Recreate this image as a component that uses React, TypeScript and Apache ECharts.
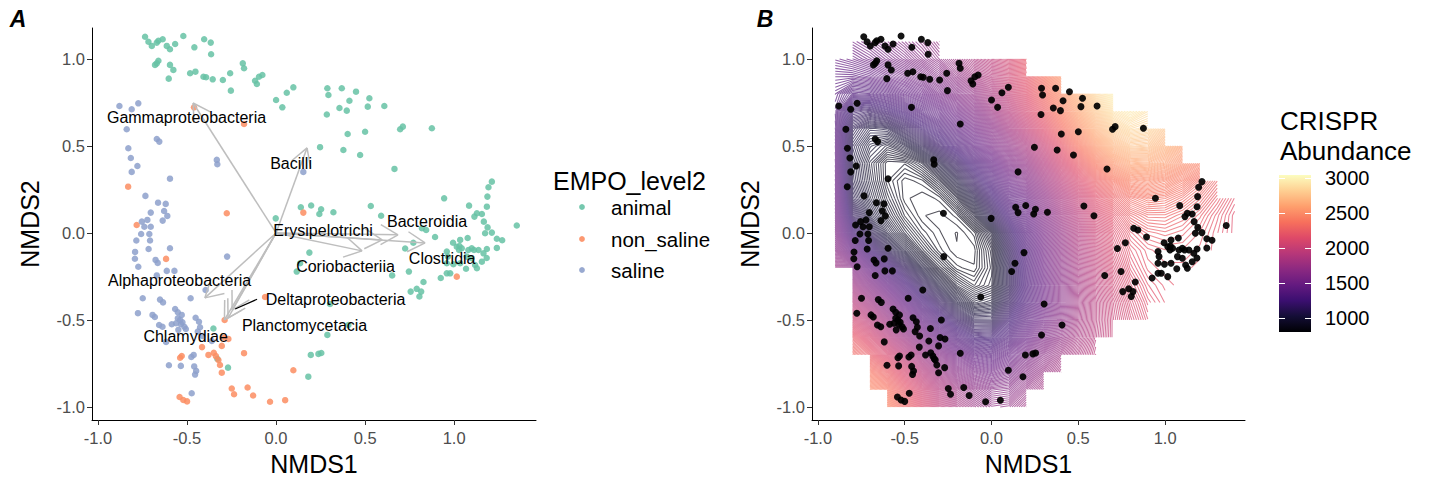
import React, { useEffect, useRef } from "react";
import * as echarts from "echarts";

const FONT = "'Liberation Sans', Arial, Helvetica, sans-serif";

// ---------- axes ----------
const X_MIN = -1.034;
const X_MAX = 1.46;
const Y_MIN = -1.075;
const Y_MAX = 1.178;
const TICK_VALUES = [-1, -0.5, 0, 0.5, 1];

// ---------- groups ----------
const groupNames = ["animal", "non_saline", "saline"];
const groupColors = ["#66c2a5", "#fc8d62", "#8da0cb"];

// ---------- NMDS site scores ----------
const animal: number[][] = [
  [-0.736, 1.128], [-0.717, 1.099], [-0.698, 1.075], [-0.67, 1.094], [-0.661, 1.105], [-0.637, 1.113], [-0.614, 1.075],
  [-0.596, 1.056], [-0.567, 1.086], [-0.521, 1.132], [-0.459, 1.067], [-0.404, 1.113], [-0.367, 1.094], [-0.365, 1.027],
  [-0.68, 0.966], [-0.661, 0.99], [-0.67, 0.975], [-0.596, 0.966], [-0.577, 0.937], [-0.603, 0.887], [-0.483, 0.918],
  [-0.453, 0.927], [-0.408, 0.898], [-0.393, 0.895], [-0.356, 0.883], [-0.299, 0.879], [-0.258, 0.918], [-0.254, 0.818],
  [-0.187, 0.975], [-0.18, 0.947], [-0.118, 0.875], [-0.108, 0.856], [-0.096, 0.898], [-0.077, 0.908],
  [0.0, 0.764], [0.035, 0.722], [0.06, 0.806], [0.097, 0.837], [0.288, 0.832], [0.294, 0.793], [0.369, 0.832],
  [0.356, 0.718], [0.397, 0.703], [0.412, 0.76], [0.285, 0.681], [0.247, 0.493], [0.378, 0.477], [0.402, 0.569],
  [0.449, 0.812], [0.524, 0.774], [0.515, 0.726], [0.608, 0.73], [0.5, 0.582], [0.697, 0.596], [0.712, 0.611],
  [0.875, 0.602], [0.472, 0.448], [0.665, 0.368],
  [0.944, 0.199], [1.212, 0.295], [1.193, 0.263], [1.187, 0.209], [1.184, 0.151], [1.084, 0.157], [1.128, 0.113],
  [1.156, 0.109], [1.114, 0.094], [1.167, 0.065], [1.188, 0.032], [1.174, -0.002], [1.212, 0.002], [1.352, 0.043],
  [1.24, -0.033], [1.27, -0.042],
  [0.139, 0.148], [0.197, 0.158], [0.243, 0.109], [0.253, 0.136], [0.322, 0.119], [-0.002, 0.084], [0.532, 0.155],
  [0.59, 0.099], [0.819, 0.027], [0.843, 0.017], [0.893, -0.023], [0.994, -0.056], [1.034, -0.04], [1.076, -0.029],
  [1.015, -0.079], [1.043, -0.088], [1.099, -0.088], [1.137, -0.098], [1.184, -0.092], [1.24, -0.086],
  [0.725, -0.089], [0.771, -0.056], [0.959, -0.107], [0.965, -0.136], [1.071, -0.136], [1.165, -0.117], [1.183, -0.144],
  [1.156, -0.165], [1.118, -0.184], [1.067, -0.206], [1.128, -0.203], [0.959, -0.232], [0.978, -0.232], [0.925, -0.259],
  [0.828, -0.282], [0.79, -0.321], [0.746, -0.222], [0.652, -0.244], [0.116, -0.222], [0.187, -0.113], [0.135, -0.174],
  [1.03, -0.075], [1.028, -0.098], [1.08, -0.098], [1.112, -0.098], [1.099, -0.145], [0.959, -0.174], [0.996, -0.18],
  [1.034, -0.174],
  [0.756, -0.337], [0.805, -0.365], [0.815, -0.337], [0.303, -0.408], [0.288, -0.586], [0.406, -0.529], [0.195, -0.701],
  [0.238, -0.695], [0.254, -0.69], [0.181, -0.826], [-0.352, -0.549], [-0.33, -0.723], [-0.27, -0.774],
];

const nonSaline: number[][] = [
  [-0.461, 0.722], [-0.18, 0.626], [-0.831, 0.266], [-0.277, 0.113], [0.153, 0.117], [1.015, -0.251], [-0.783, 0.046],
  [-0.618, -0.149], [-0.062, -0.368], [-0.289, -0.5], [-0.296, -0.601], [-0.268, -0.609], [-0.305, -0.649],
  [-0.416, -0.656], [-0.38, -0.701], [-0.35, -0.689], [-0.338, -0.708], [-0.53, -0.707], [-0.539, -0.717],
  [-0.324, -0.73], [-0.315, -0.759], [-0.305, -0.803], [-0.18, -0.691], [0.097, -0.789], [-0.249, -0.894],
  [-0.236, -0.927], [-0.16, -0.888], [-0.129, -0.934], [-0.034, -0.97], [0.051, -0.961], [-0.542, -0.943],
  [-0.521, -0.96], [-0.5, -0.968],
];

const saline: number[][] = [
  [-0.88, 0.73], [-0.811, 0.711], [-0.774, 0.745], [-0.839, 0.596], [-0.67, 0.54], [-0.656, 0.525], [-0.83, 0.487],
  [-0.816, 0.431], [-0.779, 0.385], [-0.811, 0.351], [-0.596, 0.312], [-0.333, 0.42], [-0.33, 0.395], [-0.734, 0.213],
  [-0.663, 0.174], [-0.62, 0.167], [-0.704, 0.117], [-0.629, 0.126], [-0.611, 0.098], [0.153, 0.351], [-0.754, 0.065],
  [-0.723, 0.075], [-0.74, 0.036], [-0.704, 0.036], [-0.637, 0.071], [-0.758, -0.006], [-0.712, -0.006],
  [-0.785, -0.043], [-0.708, -0.043], [-0.716, -0.092], [-0.596, -0.088], [-0.792, -0.109], [-0.793, -0.148],
  [-0.677, -0.155], [-0.665, -0.172], [-0.774, -0.194], [-0.614, -0.218], [-0.571, -0.218], [-0.67, -0.244],
  [-0.275, -0.136], [-0.749, -0.375], [-0.652, -0.383], [-0.635, -0.399], [-0.48, -0.375], [-0.396, -0.328],
  [-0.776, -0.461], [-0.694, -0.471], [-0.681, -0.483], [-0.567, -0.437], [-0.552, -0.456], [-0.53, -0.471],
  [-0.539, -0.5], [-0.562, -0.519], [-0.586, -0.525], [-0.534, -0.525], [-0.515, -0.539], [-0.507, -0.552],
  [-0.549, -0.557], [-0.526, -0.513], [-0.552, -0.49], [-0.657, -0.529], [-0.638, -0.539], [-0.452, -0.487],
  [-0.433, -0.51], [-0.427, -0.542], [-0.44, -0.567], [-0.414, -0.592], [-0.361, -0.621], [-0.618, -0.626],
  [-0.463, -0.701], [-0.476, -0.713], [-0.602, -0.76], [-0.535, -0.764], [-0.46, -0.767], [-0.449, -0.793],
  [-0.455, -0.814], [-0.474, -0.921],
];

// ---------- fitted taxa vectors ----------
const envNames = [
  "Gammaproteobacteria", "Bacilli", "Erysipelotrichi", "Bacteroidia", "Clostridia",
  "Coriobacteriia", "Alphaproteobacteria", "Deltaproteobacteria", "Planctomycetacia", "Chlamydiae",
];
const envTips: number[][] = [
  [-0.466, 0.747], [0.174, 0.489], [0.596, -0.04], [0.685, -0.011], [0.837, -0.057],
  [0.483, -0.103], [-0.4, -0.373], [-0.247, -0.443], [-0.27, -0.49], [-0.29, -0.5],
];
const envLabels: number[][] = [
  [-0.503, 0.663], [0.084, 0.397], [0.264, 0.017], [0.848, 0.063], [0.933, -0.144],
  [0.39, -0.195], [-0.542, -0.274], [0.334, -0.381], [0.16, -0.529], [-0.508, -0.596],
];
const envLinks: (number[] | null)[] = [
  null, null, null, null, null, null, null, [-0.23, -0.437, -0.107, -0.381], null, null,
];

// ---------- CRISPR abundance surface (grid) ----------
const surfaceX = [-0.9, -0.8, -0.7, -0.6, -0.5, -0.4, -0.3, -0.2, -0.1, 0, 0.1, 0.2, 0.3, 0.4, 0.5, 0.6, 0.7, 0.8, 0.9, 1.0, 1.1, 1.2, 1.3, 1.4];
const surfaceY = [1.1, 1.0, 0.9, 0.8, 0.7, 0.6, 0.5, 0.4, 0.3, 0.2, 0.1, 0, -0.1, -0.2, -0.3, -0.4, -0.5, -0.6, -0.7, -0.8, -0.9, -1.0];
const surfaceZ: number[][] = [
  [1520, 1540, 1570, 1610, 1650, 1690, 1740, 1800, 1880, 1980, 2100, 2250, 2420, 2600, 2790, 2950, 3030, 3030, 2960, 2860, 2760, 2660, 2560, 2460],
  [1470, 1490, 1520, 1560, 1600, 1650, 1700, 1770, 1850, 1950, 2070, 2220, 2390, 2570, 2760, 2930, 3020, 3030, 2960, 2860, 2760, 2660, 2560, 2460],
  [1420, 1420, 1440, 1480, 1520, 1570, 1630, 1710, 1800, 1910, 2040, 2190, 2360, 2540, 2730, 2900, 3000, 3020, 2960, 2870, 2770, 2670, 2570, 2470],
  [1380, 1320, 1330, 1370, 1420, 1470, 1540, 1620, 1720, 1850, 1990, 2140, 2310, 2490, 2680, 2850, 2970, 3000, 2940, 2850, 2750, 2650, 2550, 2450],
  [1360, 1190, 1170, 1220, 1280, 1350, 1420, 1510, 1620, 1760, 1910, 2070, 2240, 2420, 2600, 2770, 2900, 2950, 2900, 2810, 2720, 2620, 2530, 2440],
  [1380, 1100, 1040, 1050, 1130, 1220, 1310, 1410, 1520, 1650, 1800, 1970, 2140, 2320, 2500, 2670, 2800, 2860, 2840, 2760, 2670, 2580, 2490, 2400],
  [1420, 1060, 990, 960, 1000, 1080, 1190, 1300, 1420, 1550, 1690, 1840, 2010, 2190, 2370, 2540, 2680, 2750, 2740, 2670, 2590, 2510, 2430, 2350],
  [1440, 1040, 960, 900, 900, 940, 1030, 1150, 1290, 1430, 1580, 1720, 1890, 2060, 2230, 2390, 2520, 2600, 2610, 2560, 2490, 2420, 2350, 2280],
  [1470, 1050, 970, 900, 870, 880, 930, 1030, 1170, 1320, 1470, 1600, 1770, 1940, 2100, 2250, 2360, 2440, 2460, 2430, 2380, 2320, 2260, 2200],
  [1500, 1080, 990, 920, 870, 860, 870, 930, 1050, 1210, 1380, 1500, 1670, 1840, 2000, 2140, 2250, 2320, 2350, 2340, 2310, 2270, 2220, 2170],
  [1540, 1150, 1030, 950, 890, 860, 855, 870, 950, 1100, 1280, 1430, 1600, 1770, 1930, 2070, 2180, 2250, 2280, 2280, 2260, 2230, 2190, 2150],
  [1600, 1280, 1110, 1000, 930, 880, 860, 850, 870, 960, 1170, 1370, 1550, 1720, 1880, 2020, 2130, 2200, 2230, 2240, 2230, 2210, 2180, 2150],
  [1670, 1450, 1250, 1100, 1000, 920, 870, 852, 855, 920, 1120, 1330, 1520, 1690, 1850, 1980, 2100, 2170, 2200, 2210, 2210, 2200, 2180, 2160],
  [1770, 1630, 1450, 1280, 1130, 1010, 920, 870, 860, 910, 1090, 1310, 1500, 1670, 1820, 1950, 2070, 2150, 2190, 2200, 2200, 2190, 2170, 2160],
  [1880, 1780, 1620, 1450, 1290, 1140, 1020, 930, 890, 920, 1090, 1300, 1480, 1650, 1800, 1930, 2040, 2120, 2170, 2190, 2200, 2190, 2180, 2170],
  [2020, 1930, 1780, 1620, 1450, 1290, 1150, 1030, 960, 980, 1140, 1320, 1490, 1650, 1790, 1910, 2010, 2090, 2150, 2180, 2190, 2190, 2180, 2170],
  [2150, 2060, 1930, 1770, 1600, 1440, 1300, 1170, 1080, 1080, 1220, 1380, 1530, 1670, 1800, 1910, 2000, 2070, 2130, 2170, 2180, 2180, 2180, 2170],
  [2280, 2220, 2090, 1920, 1760, 1600, 1460, 1330, 1230, 1220, 1320, 1460, 1590, 1710, 1820, 1920, 2000, 2070, 2130, 2170, 2180, 2180, 2180, 2170],
  [2400, 2320, 2220, 2090, 1930, 1770, 1630, 1510, 1410, 1380, 1450, 1560, 1670, 1770, 1860, 1940, 2010, 2080, 2140, 2170, 2180, 2180, 2180, 2170],
  [2500, 2450, 2370, 2250, 2090, 1920, 1770, 1650, 1560, 1520, 1560, 1650, 1740, 1820, 1900, 1970, 2040, 2100, 2150, 2180, 2180, 2180, 2180, 2170],
  [2600, 2550, 2480, 2370, 2210, 2050, 1900, 1780, 1690, 1640, 1650, 1720, 1800, 1870, 1940, 2000, 2060, 2120, 2160, 2180, 2180, 2180, 2180, 2170],
  [2700, 2650, 2570, 2450, 2280, 2120, 1970, 1850, 1760, 1710, 1720, 1780, 1850, 1920, 1980, 2040, 2100, 2150, 2180, 2190, 2190, 2180, 2170, 2160],
];
// extent of the fitted surface: for each band between surfaceY[b] and surfaceY[b+1], first/last grid column
const surfaceBandStart = [1, 0, 0, 0, 0, 0, 0, 0, 0, 0, 0, 0, 0, 1, 1, 1, 1, 1, 2, 2, 3];
const surfaceBandEnd = [6, 11, 13, 16, 18, 19, 20, 21, 22, 23, 23, 22, 21, 20, 19, 18, 16, 15, 13, 12, 11];

// ---------- colour scale ----------
const CRISPR_MIN = 800;
const CRISPR_MAX = 3043;
const colorbarTicks = [1000, 1500, 2000, 2500, 3000];
const MAGMA = ["#000004", "#140e36", "#3b0f70", "#641a80", "#8c2981", "#b73779", "#de4968", "#f7705c", "#fe9f6d", "#fecf92", "#fcfdbf"];
const CONTOUR_STEP = 8;
const CONTOUR_ALPHA = 0.68;

function mixWithWhite(hex: string, alpha: number) {
  const n = parseInt(hex.slice(1), 16);
  const r = (n >> 16) & 255;
  const g = (n >> 8) & 255;
  const b = n & 255;
  const m = (c: number) => Math.round(c * alpha + 255 * (1 - alpha));
  return `rgb(${m(r)},${m(g)},${m(b)})`;
}

echarts.graphic.registerShape(
  "contourSegments",
  (echarts.graphic as any).extendShape({
    shape: { pts: [] as number[] },
    buildPath(ctx: any, shape: any) {
      const p = shape.pts;
      for (let i = 0; i + 3 < p.length; i += 4) {
        ctx.moveTo(p[i], p[i + 1]);
        ctx.lineTo(p[i + 2], p[i + 3]);
      }
    },
  })
);

function buildContours() {
  const levels: number[] = [];
  for (let l = CRISPR_MIN + 3; l < CRISPR_MAX; l += CONTOUR_STEP) levels.push(l);
  const segs: number[][] = levels.map(() => []);
  for (let b = 0; b < surfaceBandStart.length; b++) {
    const top = surfaceZ[b];
    const bot = surfaceZ[b + 1];
    const yT = surfaceY[b];
    const yB = surfaceY[b + 1];
    for (let c = surfaceBandStart[b]; c < surfaceBandEnd[b]; c++) {
      const xa = surfaceX[c];
      const xb = surfaceX[c + 1];
      const P = [
        [xa, yB, bot[c]],
        [xb, yB, bot[c + 1]],
        [xb, yT, top[c + 1]],
        [xa, yT, top[c]],
      ];
      const vals = P.map((p) => p[2]);
      const lo = Math.min(...vals);
      const hi = Math.max(...vals);
      const center = (vals[0] + vals[1] + vals[2] + vals[3]) / 4;
      for (let k = 0; k < levels.length; k++) {
        const L = levels[k];
        if (L <= lo || L >= hi) continue;
        const cross: (number[] | null)[] = [];
        for (let e = 0; e < 4; e++) {
          const p = P[e];
          const q = P[(e + 1) % 4];
          if (p[2] < L !== q[2] < L) {
            const t = (L - p[2]) / (q[2] - p[2]);
            cross.push([p[0] + t * (q[0] - p[0]), p[1] + t * (q[1] - p[1])]);
          } else cross.push(null);
        }
        const pts = cross.filter((v) => v) as number[][];
        if (pts.length === 2) {
          segs[k].push(pts[0][0], pts[0][1], pts[1][0], pts[1][1]);
        } else if (pts.length === 4) {
          const cc = cross as number[][];
          if (center < L === vals[0] < L) {
            segs[k].push(cc[0][0], cc[0][1], cc[1][0], cc[1][1], cc[2][0], cc[2][1], cc[3][0], cc[3][1]);
          } else {
            segs[k].push(cc[3][0], cc[3][1], cc[0][0], cc[0][1], cc[1][0], cc[1][1], cc[2][0], cc[2][1]);
          }
        }
      }
    }
  }
  const data: number[][] = [];
  const segList: number[][] = [];
  levels.forEach((l, k) => {
    if (segs[k].length) {
      data.push([0, 0, l]);
      segList.push(segs[k]);
    }
  });
  return { data, segList };
}

function xAxis(gridIndex: number) {
  return {
    type: "value",
    gridIndex,
    min: X_MIN,
    max: X_MAX,
    name: "NMDS1",
    nameLocation: "middle",
    nameGap: 31,
    nameTextStyle: { fontSize: 25, color: "#000", fontFamily: FONT },
    axisLine: { show: true, onZero: false, lineStyle: { color: "#000", width: 1 } },
    axisTick: { show: true, length: 5, customValues: TICK_VALUES, lineStyle: { color: "#333", width: 1 } },
    axisLabel: {
      customValues: TICK_VALUES,
      formatter: (v: number) => v.toFixed(1),
      color: "#4d4d4d",
      fontSize: 16.5,
      fontFamily: FONT,
      margin: 9,
    },
    splitLine: { show: false },
  };
}

function yAxis(gridIndex: number) {
  return {
    type: "value",
    gridIndex,
    min: Y_MIN,
    max: Y_MAX,
    name: "NMDS2",
    nameLocation: "middle",
    nameGap: 50,
    nameTextStyle: { fontSize: 25, color: "#000", fontFamily: FONT },
    axisLine: { show: true, onZero: false, lineStyle: { color: "#000", width: 1 } },
    axisTick: { show: true, length: 5, customValues: TICK_VALUES, lineStyle: { color: "#333", width: 1 } },
    axisLabel: {
      customValues: TICK_VALUES,
      formatter: (v: number) => v.toFixed(1),
      color: "#4d4d4d",
      fontSize: 16.5,
      fontFamily: FONT,
      margin: 7,
    },
    splitLine: { show: false },
  };
}

export default function App() {
  const ref = useRef<HTMLDivElement>(null);
  useEffect(() => {
    document.body.style.margin = "0";
    const chart = echarts.init(ref.current!, null, { renderer: "svg" });
    const contours = buildContours();
    const groups = [animal, nonSaline, saline];

    const cbTop = 175;
    const cbH = 157;
    const cbLeft = 1279;
    const cbW = 32;
    const cbY = (v: number) => cbTop + ((CRISPR_MAX - v) / (CRISPR_MAX - CRISPR_MIN)) * cbH;

    const graphic: any[] = [
      { type: "text", x: 18, y: 19, style: { text: "A", fontSize: 23, fontWeight: "bold", fontStyle: "italic", fontFamily: FONT, fill: "#000", align: "center", verticalAlign: "middle" } },
      { type: "text", x: 765, y: 19, style: { text: "B", fontSize: 23, fontWeight: "bold", fontStyle: "italic", fontFamily: FONT, fill: "#000", align: "center", verticalAlign: "middle" } },
      { type: "text", x: 553, y: 181, style: { text: "EMPO_level2", fontSize: 25, fontFamily: FONT, fill: "#000", align: "left", verticalAlign: "middle" } },
      { type: "text", x: 1280, y: 121, style: { text: "CRISPR", fontSize: 26, fontFamily: FONT, fill: "#000", align: "left", verticalAlign: "middle" } },
      { type: "text", x: 1280, y: 151, style: { text: "Abundance", fontSize: 26, fontFamily: FONT, fill: "#000", align: "left", verticalAlign: "middle" } },
      {
        type: "rect",
        shape: { x: cbLeft, y: cbTop, width: cbW, height: cbH },
        style: {
          fill: new echarts.graphic.LinearGradient(0, 0, 0, 1,
            MAGMA.slice().reverse().map((c, i) => ({ offset: i / (MAGMA.length - 1), color: c }))),
        },
      },
    ];
    const legendRows = [207, 239, 270];
    groupNames.forEach((g, i) => {
      graphic.push({ type: "circle", shape: { cx: 582, cy: legendRows[i], r: 2.9 }, style: { fill: groupColors[i], opacity: 0.9 } });
      graphic.push({ type: "text", x: 611, y: legendRows[i], style: { text: g, fontSize: 20.5, fontFamily: FONT, fill: "#000", align: "left", verticalAlign: "middle" } });
    });
    colorbarTicks.forEach((v) => {
      const y = Math.round(cbY(v)) + 0.5;
      graphic.push({ type: "line", shape: { x1: cbLeft, y1: y, x2: cbLeft + 6, y2: y }, style: { stroke: "#fff", lineWidth: 1 } });
      graphic.push({ type: "line", shape: { x1: cbLeft + cbW - 6, y1: y, x2: cbLeft + cbW, y2: y }, style: { stroke: "#fff", lineWidth: 1 } });
      graphic.push({ type: "text", x: 1325, y: cbY(v), style: { text: String(v), fontSize: 20, fontFamily: FONT, fill: "#000", align: "left", verticalAlign: "middle" } });
    });

    const series: any[] = [];
    groups.forEach((pts, i) => {
      series.push({
        type: "scatter",
        name: groupNames[i],
        xAxisIndex: 0,
        yAxisIndex: 0,
        data: pts,
        symbolSize: 6.5,
        itemStyle: { color: groupColors[i], opacity: 0.85 },
        silent: true,
        z: 2,
      });
    });
    series.push({
      type: "custom",
      name: "vectors",
      xAxisIndex: 0,
      yAxisIndex: 0,
      clip: false,
      silent: true,
      z: 4,
      data: envTips.map((t, i) => [t[0], t[1], envLabels[i][0], envLabels[i][1], i]),
      renderItem: (params: any, api: any) => {
        const i = api.value(4);
        const o = api.coord([0, 0]);
        const t = api.coord([api.value(0), api.value(1)]);
        const lp = api.coord([api.value(2), api.value(3)]);
        const ang = Math.atan2(o[1] - t[1], o[0] - t[0]);
        const len = 20;
        const a = Math.PI / 6;
        const grey = { stroke: "#bebebe", lineWidth: 1.5 };
        const children: any[] = [
          { type: "line", shape: { x1: o[0], y1: o[1], x2: t[0], y2: t[1] }, style: grey },
          { type: "line", shape: { x1: t[0], y1: t[1], x2: t[0] + len * Math.cos(ang + a), y2: t[1] + len * Math.sin(ang + a) }, style: grey },
          { type: "line", shape: { x1: t[0], y1: t[1], x2: t[0] + len * Math.cos(ang - a), y2: t[1] + len * Math.sin(ang - a) }, style: grey },
        ];
        const link = envLinks[i];
        if (link) {
          const p1 = api.coord([link[0], link[1]]);
          const p2 = api.coord([link[2], link[3]]);
          children.push({ type: "line", shape: { x1: p1[0], y1: p1[1], x2: p2[0], y2: p2[1] }, style: { stroke: "#000", lineWidth: 1.3 } });
        }
        children.push({
          type: "text",
          x: lp[0],
          y: lp[1],
          z2: 10,
          style: { text: envNames[i], fontSize: 16, fontFamily: FONT, fill: "#000", align: "center", verticalAlign: "middle" },
        });
        return { type: "group", children };
      },
    });
    const contourSeriesIndex = series.length;
    series.push({
      type: "custom",
      name: "CRISPR Abundance",
      xAxisIndex: 1,
      yAxisIndex: 1,
      clip: false,
      silent: true,
      z: 2,
      data: contours.data,
      renderItem: (params: any, api: any) => {
        const s = contours.segList[params.dataIndex];
        const pts: number[] = new Array(s.length);
        for (let k = 0; k < s.length; k += 2) {
          const p = api.coord([s[k], s[k + 1]]);
          pts[k] = p[0];
          pts[k + 1] = p[1];
        }
        return {
          type: "contourSegments",
          shape: { pts },
          style: { stroke: api.visual("color"), fill: "none", lineWidth: 1.05 },
        };
      },
    });
    series.push({
      type: "scatter",
      name: "sites",
      xAxisIndex: 1,
      yAxisIndex: 1,
      data: [...animal, ...nonSaline, ...saline],
      symbolSize: 7,
      itemStyle: { color: "#000", opacity: 0.92 },
      silent: true,
      z: 3,
    });

    chart.setOption({
      animation: false,
      backgroundColor: "#fff",
      textStyle: { fontFamily: FONT },
      grid: [
        { left: 92, top: 28, width: 444, height: 392, containLabel: false },
        { left: 812, top: 28, width: 433, height: 392, containLabel: false },
      ],
      xAxis: [xAxis(0), xAxis(1)],
      yAxis: [yAxis(0), yAxis(1)],
      visualMap: {
        type: "continuous",
        show: false,
        min: CRISPR_MIN,
        max: CRISPR_MAX,
        dimension: 2,
        seriesIndex: contourSeriesIndex,
        inRange: { color: MAGMA.map((c) => mixWithWhite(c, CONTOUR_ALPHA)) },
      },
      graphic,
      series,
    });
    return () => chart.dispose();
  }, []);
  return <div ref={ref} style={{ width: 1433, height: 482 }} />;
}
